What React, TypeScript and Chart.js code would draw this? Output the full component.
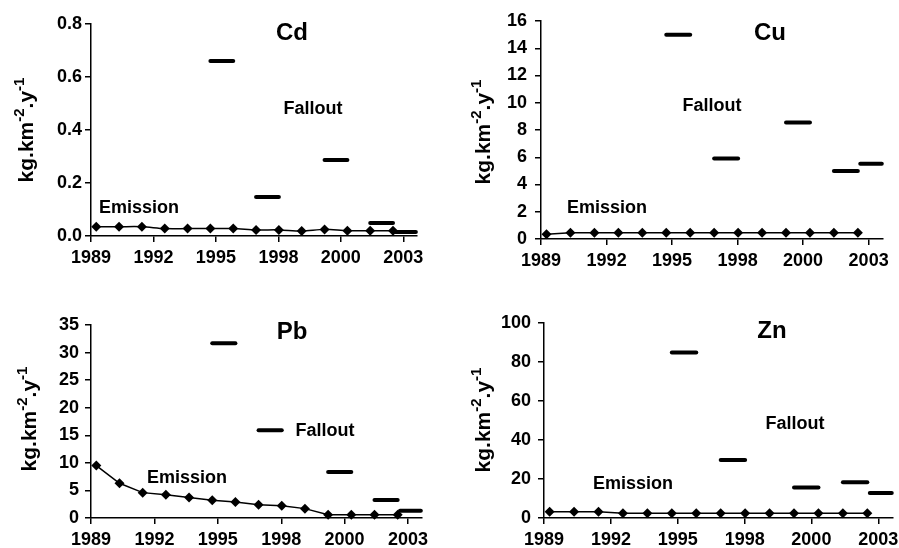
import React, { useEffect, useRef } from "react";
import { Chart, registerables } from "chart.js";

Chart.register(...registerables);

const FONT = "'Liberation Sans', Arial, Helvetica, sans-serif";

// x positions of the yearly emission points (1989 … 2002)
const emissionX = [0, 1, 2, 3, 4, 5, 6, 7, 8, 9, 10, 11, 12, 13];
// x-axis tick positions and labels
const xTickPositions = [-0.23, 2.51, 5.24, 7.98, 10.71, 13.45];
const xTickLabels = ["1989", "1992", "1995", "1998", "2000", "2003"];
const xMin = -0.23;
const xMax = 14.05;
// fallout sampling periods (start / end on the x axis)
const falloutStart = [5.0, 7.0, 10.0, 12.0, 13.1];
const falloutEnd = [6.0, 8.0, 11.0, 13.0, 14.0];

// Cd
const cdEmission = [0.035, 0.035, 0.035, 0.028, 0.028, 0.028, 0.028, 0.023, 0.023, 0.019, 0.025, 0.02, 0.02, 0.02];
const cdFallout = [0.66, 0.147, 0.287, 0.049, 0.015];
// Cu
const cuEmission = [0.35, 0.45, 0.45, 0.45, 0.45, 0.45, 0.45, 0.45, 0.45, 0.45, 0.45, 0.45, 0.45, 0.45];
const cuFallout = [15.0, 5.9, 8.55, 5.0, 5.52];
// Pb
const pbEmission = [9.5, 6.3, 4.6, 4.2, 3.7, 3.2, 2.9, 2.4, 2.2, 1.7, 0.6, 0.6, 0.6, 0.6];
const pbFallout = [31.7, 15.9, 8.33, 3.26, 1.33];
// Zn
const znEmission = [3.2, 3.2, 3.2, 2.4, 2.4, 2.4, 2.4, 2.4, 2.4, 2.4, 2.4, 2.4, 2.4, 2.4];
const znFallout = [84.9, 29.8, 15.6, 18.3, 12.8];

type PanelCfg = {
  title: string;
  emission: number[];
  fallout: number[];
  yMax: number;
  yStep: number;
  decimals: number;
  pos: { x: number; y: number; w: number; h: number };
  area: { l: number; t: number; r: number; b: number };
  titlePos: [number, number];
  falloutPos: [number, number];
  emissionPos: [number, number];
  yTitleX: number;
  yTitleY: number;
  yPad: number;
  tension: number;
};

const panels: PanelCfg[] = [
  {
    title: "Cd", emission: cdEmission, fallout: cdFallout, yMax: 0.8, yStep: 0.2, decimals: 1,
    pos: { x: 0, y: 0, w: 450, h: 274 }, area: { l: 91, t: 24, r: 417, b: 236 },
    titlePos: [8.57, 0.766], falloutPos: [9.49, 0.479], emissionPos: [1.87, 0.106],
    yTitleX: 33, yTitleY: 130, yPad: 3, tension: 0.3,
  },
  {
    title: "Cu", emission: cuEmission, fallout: cuFallout, yMax: 16, yStep: 2, decimals: 0,
    pos: { x: 450, y: 0, w: 449, h: 274 }, area: { l: 91, t: 21, r: 433, b: 239 },
    titlePos: [9.33, 15.1], falloutPos: [6.91, 9.77], emissionPos: [2.53, 2.3],
    yTitleX: 40, yTitleY: 132, yPad: 8, tension: 0,
  },
  {
    title: "Pb", emission: pbEmission, fallout: pbFallout, yMax: 35, yStep: 5, decimals: 0,
    pos: { x: 0, y: 274, w: 450, h: 274 }, area: { l: 91, t: 51, r: 422, b: 244 },
    titlePos: [8.45, 33.7], falloutPos: [9.86, 15.75], emissionPos: [3.91, 7.24],
    yTitleX: 36, yTitleY: 145, yPad: 6, tension: 0,
  },
  {
    title: "Zn", emission: znEmission, fallout: znFallout, yMax: 100, yStep: 20, decimals: 0,
    pos: { x: 450, y: 274, w: 449, h: 274 }, area: { l: 94, t: 49, r: 443, b: 244 },
    titlePos: [9.1, 95.5], falloutPos: [10.04, 48.3], emissionPos: [3.41, 17.5],
    yTitleX: 40, yTitleY: 146, yPad: 7, tension: 0,
  },
];

function Panel({ cfg }: { cfg: PanelCfg }) {
  const ref = useRef<HTMLCanvasElement | null>(null);

  useEffect(() => {
    if (!ref.current) return;
    const { area, pos } = cfg;

    const textPlugin = {
      id: "panelText",
      afterDraw(chart: any) {
        const ctx = chart.ctx as CanvasRenderingContext2D;
        const xs = chart.scales.x;
        const ys = chart.scales.y;
        ctx.save();
        ctx.fillStyle = "#000";
        ctx.textAlign = "center";
        ctx.textBaseline = "middle";
        ctx.font = `bold 24px ${FONT}`;
        ctx.fillText(cfg.title, xs.getPixelForValue(cfg.titlePos[0]), ys.getPixelForValue(cfg.titlePos[1]));
        ctx.font = `bold 18px ${FONT}`;
        ctx.fillText("Fallout", xs.getPixelForValue(cfg.falloutPos[0]), ys.getPixelForValue(cfg.falloutPos[1]));
        ctx.fillText("Emission", xs.getPixelForValue(cfg.emissionPos[0]), ys.getPixelForValue(cfg.emissionPos[1]));

        // rotated y-axis title with superscripts
        const parts = [
          { t: "kg.km", sup: false },
          { t: "-2", sup: true },
          { t: ".y", sup: false },
          { t: "-1", sup: true },
        ];
        const baseFont = `bold 21px ${FONT}`;
        const supFont = `bold 15px ${FONT}`;
        const widths = parts.map((p) => {
          ctx.font = p.sup ? supFont : baseFont;
          return ctx.measureText(p.t).width;
        });
        const total = widths.reduce((a, b) => a + b, 0);
        ctx.translate(cfg.yTitleX, cfg.yTitleY);
        ctx.rotate(-Math.PI / 2);
        ctx.textAlign = "left";
        ctx.textBaseline = "alphabetic";
        let x = -total / 2;
        parts.forEach((p, i) => {
          ctx.font = p.sup ? supFont : baseFont;
          ctx.fillText(p.t, x, p.sup ? -9 : 0);
          x += widths[i];
        });
        ctx.restore();
      },
    };

    const falloutSets = cfg.fallout.map((v, i) => ({
      type: "line" as const,
      data: [
        { x: falloutStart[i], y: v },
        { x: falloutEnd[i], y: v },
      ],
      borderColor: "#000",
      borderWidth: 4,
      borderCapStyle: "round" as const,
      pointRadius: 0,
      pointHoverRadius: 0,
      clip: false as any,
    }));

    const chart = new Chart(ref.current, {
      type: "line",
      data: {
        datasets: [
          ...falloutSets,
          {
            type: "line",
            data: emissionX.map((x, i) => ({ x, y: cfg.emission[i] })),
            borderColor: "#000",
            borderWidth: 1.5,
            tension: cfg.tension,
            pointStyle: "rectRot",
            pointRadius: 5,
            pointBackgroundColor: "#000",
            pointBorderColor: "#000",
            pointBorderWidth: 0,
            clip: false as any,
          },
        ],
      },
      options: {
        animation: false,
        responsive: false,
        maintainAspectRatio: false,
        events: [],
        layout: {
          padding: { left: 0, top: area.t, right: pos.w - area.r, bottom: 0 },
        },
        plugins: {
          legend: { display: false },
          tooltip: { enabled: false },
          title: { display: false },
        },
        scales: {
          x: {
            type: "linear",
            min: xMin,
            max: xMax,
            afterBuildTicks: (scale: any) => {
              scale.ticks = xTickPositions.map((value) => ({ value }));
            },
            afterFit: (scale: any) => {
              scale.height = pos.h - area.b;
              scale.paddingLeft = 0;
              scale.paddingRight = 0;
            },
            ticks: {
              autoSkip: false,
              maxRotation: 0,
              minRotation: 0,
              padding: 5,
              color: "#000",
              font: { family: FONT, size: 18, weight: "bold" },
              callback: (_v: any, index: number) => xTickLabels[index],
            },
            grid: {
              display: true,
              drawOnChartArea: false,
              drawTicks: true,
              tickLength: 6,
              color: "#000",
              lineWidth: 1.5,
            },
            border: { display: true, color: "#000", width: 1.5 },
          },
          y: {
            type: "linear",
            min: 0,
            max: cfg.yMax,
            afterFit: (scale: any) => {
              scale.width = area.l;
              scale.paddingTop = 0;
              scale.paddingBottom = 0;
            },
            ticks: {
              stepSize: cfg.yStep,
              padding: cfg.yPad,
              color: "#000",
              font: { family: FONT, size: 18, weight: "bold" },
              callback: (v: any) => (cfg.decimals ? Number(v).toFixed(cfg.decimals) : String(Math.round(Number(v)))),
            },
            grid: {
              display: true,
              drawOnChartArea: false,
              drawTicks: true,
              tickLength: 6,
              color: "#000",
              lineWidth: 1.5,
            },
            border: { display: true, color: "#000", width: 1.5 },
          },
        },
      } as any,
      plugins: [textPlugin],
    });
    return () => chart.destroy();
  }, [cfg]);

  return (
    <canvas
      ref={ref}
      width={cfg.pos.w}
      height={cfg.pos.h}
      style={{
        position: "absolute",
        left: cfg.pos.x,
        top: cfg.pos.y,
        width: cfg.pos.w,
        height: cfg.pos.h,
        display: "block",
      }}
    />
  );
}

export default function App() {
  return (
    <div
      style={{
        position: "absolute",
        left: 0,
        top: 0,
        width: 899,
        height: 548,
        background: "#fff",
        overflow: "hidden",
      }}
    >
      {panels.map((p) => (
        <Panel key={p.title} cfg={p} />
      ))}
    </div>
  );
}
